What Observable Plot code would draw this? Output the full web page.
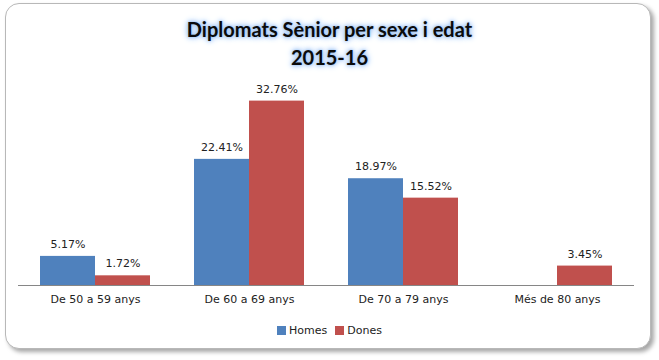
<!DOCTYPE html>
<html><head><meta charset="utf-8">
<script src="https://cdn.jsdelivr.net/npm/d3@7"></script>
<script src="https://cdn.jsdelivr.net/npm/@observablehq/plot@0.6"></script>
<style>
html,body{margin:0;padding:0;background:#fff;}
#wrap{position:relative;width:659px;height:360px;overflow:hidden;background:#fff;}
#frame{position:absolute;left:5px;top:3px;width:644px;height:344px;border:1px solid #b8b8b8;border-radius:14px;box-shadow:3px 3px 4px rgba(0,0,0,0.35);background:#fff;}
#title{position:absolute;left:0;top:15px;width:659px;text-align:center;font-family:Lato,"Open Sans",sans-serif;font-weight:bold;font-size:20px;line-height:28px;color:#0b0b0b;
text-shadow:0 0 2px #9cc2f4,0 0 4px #9cc2f4,0 0 6px #b4d1f7,0 0 8px #c8def9;}
#chart{position:absolute;left:0;top:0;}
#legend{position:absolute;top:324px;left:0;width:659px;text-align:center;font-family:"DejaVu Sans",sans-serif;font-size:11px;color:#222;}
#legend span.sw{display:inline-block;width:9px;height:9px;margin-right:3px;vertical-align:-1px;}
#legend span.it{margin:0 4px;}
</style></head>
<body><div id="wrap"><div id="frame"></div><div id="chart"></div>
<div id="title">Diplomats Sènior per sexe i edat<br>2015-16</div>
<div id="legend"><span class="it"><span class="sw" style="background:#4F81BD"></span>Homes</span><span class="it"><span class="sw" style="background:#C0504D"></span>Dones</span></div>
</div>
<script>
const categories = ["De 50 a 59 anys","De 60 a 69 anys","De 70 a 79 anys","Més de 80 anys"];
const series = ["Homes","Dones"];
const homes = [5.17, 22.41, 18.97, null];
const dones = [1.72, 32.76, 15.52, 3.45];
const colors = ["#4F81BD","#C0504D"];

const data = [];
categories.forEach((c,i)=>{
  if (homes[i] != null) data.push({cat:c, sex:"Homes", v:homes[i]});
  if (dones[i] != null) data.push({cat:c, sex:"Dones", v:dones[i]});
});

const chart = Plot.plot({
  width: 659, height: 320,
  marginLeft: 16, marginRight: 24, marginTop: 88, marginBottom: 35,
  style: {fontFamily: "DejaVu Sans, sans-serif", fontSize: "11px", color: "#222", background: "transparent"},
  fx: {domain: categories, padding: 0, label: null, axis: "bottom", tickSize: 0, tickPadding: 10},
  x: {domain: series, paddingInner: 0, paddingOuter: 0.38, axis: null},
  y: {domain: [0, 35], axis: null},
  color: {domain: series, range: colors},
  marks: [
    Plot.barY(data, {fx: "cat", x: "sex", y: "v", fill: "sex"}),
    Plot.text(data, {fx: "cat", x: "sex", y: "v", text: d => d.v.toFixed(2) + "%", dy: -12, fill: "#222", fontSize: 11}),
    Plot.ruleY([0], {stroke: "#868686"})
  ]
});
document.getElementById("chart").appendChild(chart);
</script>
</body></html>
